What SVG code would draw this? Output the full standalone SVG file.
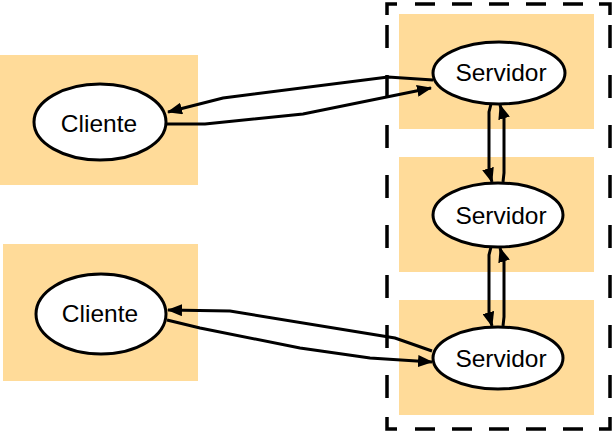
<svg xmlns="http://www.w3.org/2000/svg" width="612" height="431" viewBox="0 0 612 431">
<defs>
<style>
.bg{fill:#FFDB99;stroke:none}
.el{fill:#fff;stroke:#000;stroke-width:3}
.tx{font-family:"Liberation Sans",Arial,sans-serif;font-size:24.5px;fill:#000;text-anchor:middle}
.cn{fill:none;stroke:#000;stroke-width:3;stroke-linejoin:miter}
.grp{fill:none;stroke:#000;stroke-width:3.5}
.gh{stroke-dasharray:20 17}
.gv{stroke-dasharray:23 27}
</style>
<marker id="ah" viewBox="0 0 15 12" refX="14" refY="6" markerWidth="15" markerHeight="12" markerUnits="userSpaceOnUse" orient="auto">
<path d="M0,0 L15,6 L0,12 Z" fill="#000"/>
</marker>
</defs>
<rect width="612" height="431" fill="#fff"/>
<g id="group-border">
<path class="grp" d="M387,15 L387,4 L397,4 M599,4 L610,4 L610,15 M387,417 L387,429 L397,429 M599,429 L610,429 L610,417"/>
<path class="grp gh" d="M415,4 L599,4 M415,429 L599,429"/>
<path class="grp gv" d="M387,25 L387,410 M610,25 L610,410"/>
</g>
<g id="client1">
<rect class="bg" x="0" y="55" width="198" height="130"/>
<ellipse class="el" cx="100" cy="122" rx="66" ry="38"/>
<text class="tx" x="99" y="132">Cliente</text>
</g>
<g id="client2">
<rect class="bg" x="3" y="244" width="195" height="137"/>
<ellipse class="el" cx="101" cy="314" rx="65" ry="40"/>
<text class="tx" x="100" y="322">Cliente</text>
</g>
<g id="server1">
<rect class="bg" x="399" y="14" width="195" height="115"/>
<ellipse class="el" cx="499" cy="73" rx="66" ry="31"/>
<text class="tx" x="501" y="81">Servidor</text>
</g>
<g id="server2">
<rect class="bg" x="399" y="157" width="195" height="115"/>
<ellipse class="el" cx="498" cy="215" rx="65" ry="32"/>
<text class="tx" x="501" y="224">Servidor</text>
</g>
<g id="server3">
<rect class="bg" x="399" y="300" width="195" height="115"/>
<ellipse class="el" cx="498" cy="358" rx="65" ry="31"/>
<text class="tx" x="501" y="367">Servidor</text>
</g>
<g id="connectors">
<path class="cn" d="M433,80 L388,77 L223,98 L168,112" marker-end="url(#ah)"/>
<path class="cn" d="M167,124 L205,124 L303,114 L431,88" marker-end="url(#ah)"/>
<path class="cn" d="M432,351 L395,338 L230,311 L168,310" marker-end="url(#ah)"/>
<path class="cn" d="M167,320 L200,328 L300,348 L370,358 L432,362" marker-end="url(#ah)"/>
<path class="cn" d="M491,104 L489,112 L489,172 L492,182" marker-end="url(#ah)"/>
<path class="cn" d="M503,182 L504,173 L504,118 L500,105" marker-end="url(#ah)"/>
<path class="cn" d="M491,247 L489,255 L489,315 L492,326" marker-end="url(#ah)"/>
<path class="cn" d="M503,326 L504,317 L504,261 L500,248" marker-end="url(#ah)"/>
</g>
</svg>
